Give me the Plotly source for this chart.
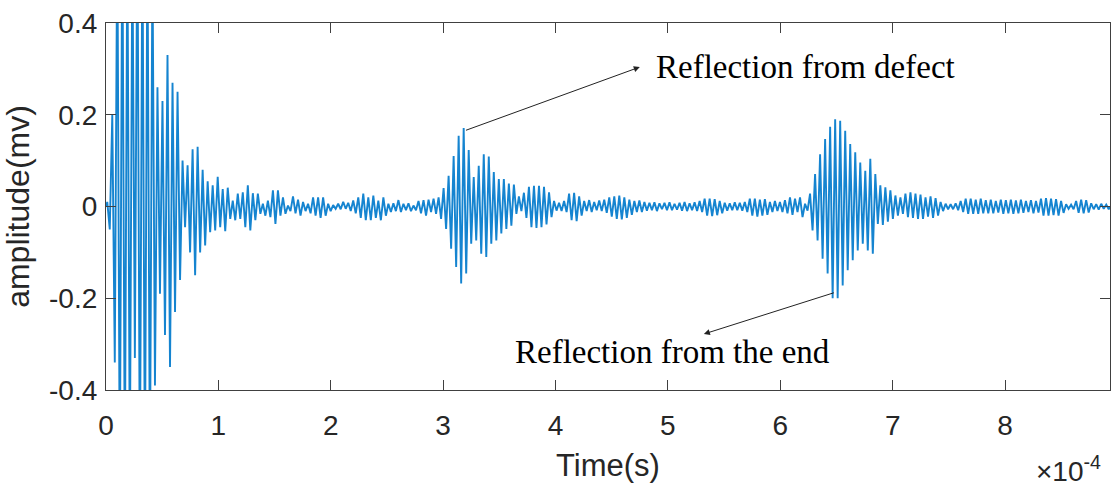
import plotly.graph_objects as go

# ---- data: peak values (mV) of each oscillation cycle ----
period_s = 4.467e-6  # duration of one oscillation cycle (s)

burst_pos = [0.01, 0.20, 0.62, 0.65, 0.60, 0.58, 0.65, 0.62, 0.60, 0.55,
             0.26, 0.23, 0.33, 0.27, 0.25, 0.10, 0.09, 0.125, 0.13, 0.08]
burst_neg = [-0.05, -0.34, -0.62, -0.60, -0.58, -0.33, -0.62, -0.60, -0.60, -0.39,
             -0.19, -0.28, -0.35, -0.23, -0.16, -0.045, -0.10, -0.15, -0.10, -0.085]

quiet1_pos = [0.055, 0.046, 0.065, 0.038, 0.041, 0.013, 0.028, 0.031, 0.046, 0.029,
              0.028, 0.006, 0.013, 0.035, 0.035, 0.020, 0.002, 0.022, 0.015, 0.010,
              0.006, 0.020, 0.020, 0.020, 0.006, 0.003, 0.006, 0.010, 0.008, 0.013,
              0.020, 0.028, 0.020, 0.024, 0.013, 0.020, 0.006, 0.007, 0.014, 0.006,
              0.007, 0.002, 0.012, 0.014, 0.015, 0.017, 0.020]
quiet1_neg = [-0.056, -0.052, -0.045, -0.054, -0.027, -0.030, -0.027, -0.045, -0.052, -0.030,
              -0.016, -0.020, -0.023, -0.038, -0.020, -0.016, -0.010, -0.015, -0.020, -0.010,
              -0.015, -0.020, -0.025, -0.020, -0.010, -0.005, -0.006, -0.005, -0.010, -0.015,
              -0.025, -0.030, -0.030, -0.025, -0.030, -0.020, -0.012, -0.010, -0.012, -0.008,
              -0.010, -0.008, -0.015, -0.020, -0.012, -0.016, -0.027]

defect_pos = [0.040, 0.067, 0.110, 0.154, 0.171, 0.123, 0.064, 0.089, 0.114, 0.109,
              0.075, 0.060, 0.060, 0.050, 0.048, 0.022, 0.030, 0.043, 0.045, 0.045,
              0.043, 0.031, 0.012]
defect_neg = [-0.049, -0.092, -0.132, -0.168, -0.146, -0.081, -0.074, -0.103, -0.110, -0.081,
              -0.074, -0.059, -0.049, -0.042, -0.016, -0.010, -0.025, -0.045, -0.047, -0.045,
              -0.039, -0.023, -0.009]

quiet2_pos = [0.008, 0.012, 0.028, 0.030, 0.022, 0.012, 0.014, 0.010, 0.013, 0.015,
              0.020, 0.022, 0.024, 0.020, 0.015, 0.012, 0.013, 0.010, 0.008, 0.009,
              0.007, 0.008, 0.009, 0.006, 0.008, 0.010, 0.007, 0.009, 0.012, 0.017,
              0.017, 0.016, 0.012, 0.008, 0.007, 0.009, 0.008, 0.010, 0.017, 0.017,
              0.015, 0.016, 0.010, 0.012, 0.010, 0.014, 0.020]
quiet2_neg = [-0.010, -0.012, -0.030, -0.032, -0.020, -0.010, -0.012, -0.008, -0.010, -0.014,
              -0.022, -0.027, -0.028, -0.025, -0.018, -0.012, -0.012, -0.009, -0.008, -0.010,
              -0.006, -0.008, -0.008, -0.007, -0.009, -0.010, -0.008, -0.010, -0.012, -0.020,
              -0.021, -0.019, -0.015, -0.009, -0.008, -0.008, -0.009, -0.012, -0.020, -0.022,
              -0.020, -0.018, -0.012, -0.010, -0.012, -0.015, -0.018]

end_pos = [0.017, 0.020, 0.006, 0.028, 0.071, 0.114, 0.147, 0.174, 0.190, 0.187,
           0.165, 0.136, 0.118, 0.096, 0.078, 0.104, 0.071, 0.046, 0.042, 0.035,
           0.024, 0.020, 0.028, 0.031]
end_neg = [-0.012, -0.023, -0.009, -0.052, -0.074, -0.114, -0.146, -0.200, -0.200, -0.172,
           -0.139, -0.117, -0.096, -0.081, -0.096, -0.103, -0.038, -0.040, -0.033, -0.027,
           -0.020, -0.016, -0.023, -0.025]

tail_pos = [0.028, 0.026, 0.020, 0.022, 0.018, 0.010, 0.006, 0.005, 0.007, 0.012,
            0.017, 0.017, 0.015, 0.017, 0.014, 0.015, 0.012, 0.015, 0.014, 0.015,
            0.013, 0.015, 0.012, 0.014, 0.012, 0.017, 0.018, 0.017, 0.016, 0.012,
            0.005, 0.004, 0.012, 0.015, 0.014, 0.007, 0.005, 0.006, 0.004]
tail_neg = [-0.027, -0.027, -0.022, -0.025, -0.020, -0.010, -0.006, -0.006, -0.008, -0.012,
            -0.016, -0.016, -0.016, -0.015, -0.015, -0.015, -0.013, -0.016, -0.015, -0.016,
            -0.015, -0.014, -0.012, -0.015, -0.013, -0.020, -0.020, -0.019, -0.020, -0.014,
            -0.005, -0.006, -0.014, -0.015, -0.013, -0.006, -0.007, -0.005, -0.006]

x_tick_vals = [0, 1e-4, 2e-4, 3e-4, 4e-4, 5e-4, 6e-4, 7e-4, 8e-4]
x_tick_text = ["0", "1", "2", "3", "4", "5", "6", "7", "8"]
y_tick_vals = [-0.4, -0.2, 0, 0.2, 0.4]
y_tick_text = ["-0.4", "-0.2", "0", "0.2", "0.4"]

# ---- build the sampled signal from the cycle peaks ----
pos = burst_pos + quiet1_pos + defect_pos + quiet2_pos + end_pos + tail_pos
neg = burst_neg + quiet1_neg + defect_neg + quiet2_neg + end_neg + tail_neg
t = [0.0]
v = [0.0]
for k, (p, n) in enumerate(zip(pos, neg)):
    t += [(k + 0.25) * period_s, (k + 0.75) * period_s]
    v += [p, n]
t_end = len(pos) * period_s
t.append(t_end)
v.append(0.0)

fig = go.Figure()
fig.add_trace(go.Scatter(x=t, y=v, mode="lines",
                         line=dict(color="#1584d0", width=1.9),
                         showlegend=False, hoverinfo="skip"))

axis_col = "#404040"
sans = "Liberation Sans, Arial, sans-serif"
tick_font = dict(family=sans, size=28, color="#262626")
serif = dict(family="Liberation Serif, Times New Roman, serif", size=33, color="black")

fig.update_layout(
    width=1114, height=488,
    margin=dict(l=106, r=4, t=23, b=98),
    paper_bgcolor="white", plot_bgcolor="white",
    xaxis=dict(range=[0, t_end], tickvals=x_tick_vals, ticktext=x_tick_text,
               ticks="inside", ticklen=10, tickwidth=1, tickcolor=axis_col,
               showline=True, linecolor=axis_col, linewidth=1.2, mirror="ticks",
               showgrid=False, zeroline=False, tickfont=tick_font, ticklabelstandoff=10,
               title=dict(text="Time(s)", font=dict(family=sans, size=31, color="#262626"),
                          standoff=14)),
    yaxis=dict(range=[-0.4, 0.4], tickvals=y_tick_vals, ticktext=y_tick_text,
               ticks="inside", ticklen=10, tickwidth=1, tickcolor=axis_col,
               showline=True, linecolor=axis_col, linewidth=1.2, mirror="ticks",
               showgrid=False, zeroline=False, tickfont=tick_font, ticklabelstandoff=2,
               title=dict(text="amplitude(mv)", font=dict(family=sans, size=32, color="#262626"),
                          standoff=10)),
)

# exponent label
fig.add_annotation(xref="paper", yref="paper", x=0.993, y=-0.215, xanchor="right", yanchor="middle",
                   text="×10<sup>-4</sup>", showarrow=False,
                   font=dict(family=sans, size=28, color="#262626"))

# arrows and texts
fig.add_annotation(x=4.75e-4, y=0.304, ax=3.19e-4, ay=0.165, xref="x", yref="y",
                   axref="x", ayref="y", text="", showarrow=True,
                   arrowhead=2, arrowsize=1.2, arrowwidth=1, arrowcolor="#222222")
fig.add_annotation(x=4.88e-4, y=0.305, xref="x", yref="y", xanchor="left", yanchor="middle",
                   text="Reflection from defect", showarrow=False, font=serif)

fig.add_annotation(x=5.32e-4, y=-0.278, ax=6.49e-4, ay=-0.187, xref="x", yref="y",
                   axref="x", ayref="y", text="", showarrow=True,
                   arrowhead=2, arrowsize=1.2, arrowwidth=1, arrowcolor="#222222")
fig.add_annotation(x=3.62e-4, y=-0.317, xref="x", yref="y", xanchor="left", yanchor="middle",
                   text="Reflection from the end", showarrow=False, font=serif)

fig.write_html("out.html")
